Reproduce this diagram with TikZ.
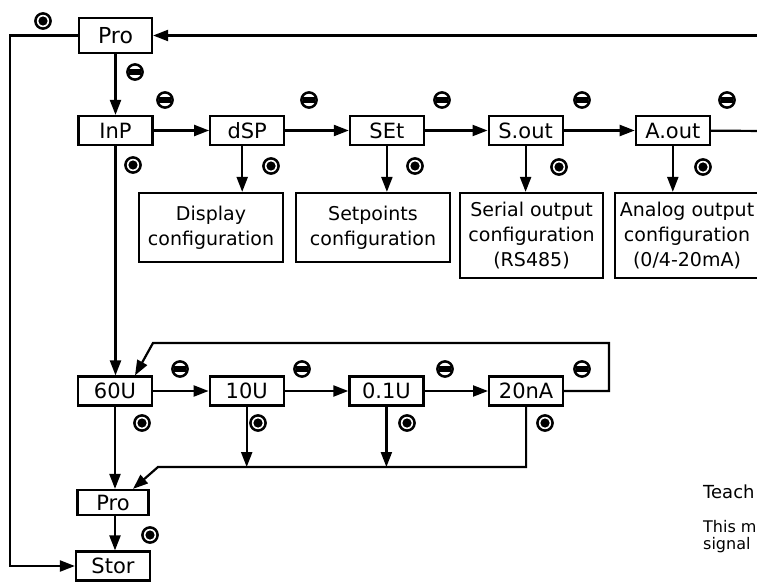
\documentclass[tikz,border=0pt]{standalone}
\usepackage{fontspec}
\setmainfont{DejaVu Sans}
\usetikzlibrary{arrows.meta, positioning}

\begin{document}
\begin{tikzpicture}[x=1pt, y=-1pt,
  stepbox/.style = {draw, line width=2.2pt, minimum width=74pt,
                    minimum height=29pt, inner sep=0pt,
                    font=\fontsize{21}{24}\selectfont},
  cfgbox/.style  = {draw, line width=2.2pt, minimum width=144pt,
                    minimum height=69pt, inner sep=0pt, align=center,
                    font=\fontsize{19}{25}\selectfont},
  notetxt/.style = {anchor=base west, inner sep=0pt},
  arr/.style     = {-{Triangle[length=15pt,width=11pt]}, line width=2.2pt},
  conn/.style    = {line width=2.2pt},
  sel/.pic       = {\draw[line width=2.5pt] (0,0) circle (7.6pt);
                    \fill (0,0) circle (4.6pt);},
  esc/.pic       = {\draw[line width=2.5pt] (0,0) circle (7.6pt);
                    \fill (-6pt,-2.9pt) rectangle (6pt,2.9pt);}
]
\useasboundingbox (0,0) rectangle (757,583);
\clip (0,0) rectangle (757,583);

\node[stepbox, minimum width=73pt, minimum height=35pt,
      font=\fontsize{22}{24}\selectfont] (pro) at (115.5,35.5) {Pro};
\node[stepbox] (inp) at (115.5,130.5) {InP};
\node[stepbox, right=55.5pt of inp] (dsp) {dSP};
\node[stepbox, right=63.5pt of dsp] (set) {SEt};
\node[stepbox, right=62.5pt of set] (sout) {S.out};
\node[stepbox, right=71pt of sout] (aout) {A.out};

\node[cfgbox] (dispcfg) at (211,227.5) {Display\\configuration};
\node[cfgbox, minimum width=154pt] (setcfg) at (373,227.5) {Setpoints\\configuration};
\node[cfgbox, minimum width=143pt, minimum height=85pt] (sercfg) at (531.5,235.5)
  {Serial output\\configuration\\(RS485)};
\node[cfgbox, minimum height=85pt] (anacfg) at (687,235.5)
  {Analog output\\configuration\\(0/4-20mA)};

\node[stepbox] (u60) at (115,391) {60U};
\node[stepbox, right=55.5pt of u60] (u10) {10U};
\node[stepbox, right=63.5pt of u10] (u01) {0.1U};
\node[stepbox, right=63.5pt of u01] (a20) {20nA};
\node[stepbox, minimum width=71pt, minimum height=25pt] (pro2) at (113,502.5) {Pro};
\node[stepbox] (stor) at (113,566) {Stor};

\node[notetxt, font=\fontsize{18}{20}\selectfont] (teach) at (703,498) {Teach};
\node[notetxt, font=\fontsize{16}{17}\selectfont] (note1) at (703,532) {This m};
\node[notetxt, font=\fontsize{16}{17}\selectfont] (note2) at (703,549) {signal};

\coordinate (rin) at (770,35.5);
\coordinate (rout) at (770,131);
\coordinate (lft) at (10,0);
\coordinate (loopr) at (609,343);
\coordinate (loopl) at (153,343);
\coordinate (busl) at (158,467);

\draw[arr] (rin) -- (pro);
\draw[arr] (pro) -- (inp);
\draw[arr] (pro.west) -- (pro.west -| lft) |- (stor.west);
\draw[arr] (inp) -- (dsp);
\draw[arr] (dsp) -- (set);
\draw[arr] (set) -- (sout);
\draw[arr] (sout) -- (aout);
\draw[conn] (aout) -- (rout);
\draw[arr] ([xshift=-5pt]dsp.south) -- ([xshift=-5pt]dsp.south |- dispcfg.north);
\draw[arr] (set.south) -- (set.south |- setcfg.north);
\draw[arr] (sout.south) -- (sout.south |- sercfg.north);
\draw[arr] (aout.south) -- (aout.south |- anacfg.north);

\draw[arr] (inp.south) -- (inp.south |- u60.north);
\draw[arr] (u60) -- (u10);
\draw[arr] (u10) -- (u01);
\draw[arr] (u01) -- (a20);
\draw[arr] (a20.east) -| (loopr) -- (loopl) -- ([xshift=20pt]u60.north);
\draw[arr] (u10.south) -- (u10.south |- busl);
\draw[arr] (u01.south) -- (u01.south |- busl);
\draw[arr] (a20.south) -- (a20.south |- busl) -- (busl) -- ([xshift=20pt]pro2.north);
\draw[arr] (u60.south) -- (u60.south |- pro2.north);
\draw[arr] (pro2.south -| u60.south) -- (stor.north -| u60.south);

\foreach \x/\y in {43/21, 133/165, 271/166, 415/166, 559/167, 703/167,
                   142/423, 258/423, 407/423, 545/423, 150/535}
  \pic at (\x,\y) {sel};
\foreach \x/\y in {135/72, 165/100, 309/100, 442/100, 582/100, 727/100,
                   180/369, 302/369, 445/369, 582/369}
  \pic at (\x,\y) {esc};
\end{tikzpicture}
\end{document}
